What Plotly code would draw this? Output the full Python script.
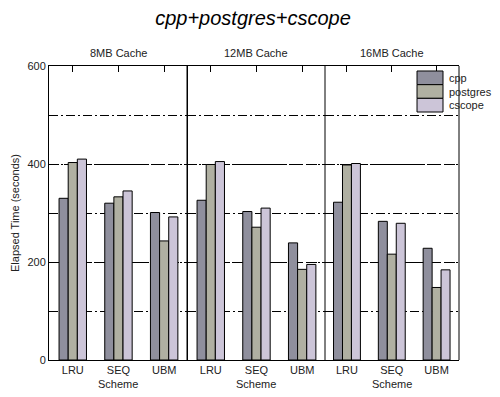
import plotly.graph_objects as go

title = "cpp+postgres+cscope"
panels = ["8MB Cache", "12MB Cache", "16MB Cache"]
schemes = ["LRU", "SEQ", "UBM"]
series = ["cpp", "postgres", "cscope"]
colors = ["#8f8f9d", "#b0b0a2", "#ccc5d8"]

# values[series][panel] -> list over schemes
cpp_vals = [[330, 320, 301], [326, 303, 239], [322, 283, 228]]
postgres_vals = [[403, 333, 243], [399, 271, 185], [398, 216, 148]]
cscope_vals = [[410, 345, 292], [405, 310, 195], [401, 279, 184]]
values = [cpp_vals, postgres_vals, cscope_vals]

y_ticks = [0, 200, 400, 600]

fig = go.Figure()
domains = [[0, 0.3366], [0.3366, 0.6732], [0.6732, 1.0]]
ranges = [[-0.52, 2.5], [-0.52, 2.5], [-0.49, 2.5]]
font = "Liberation Sans, Arial, sans-serif"
tcol = "#222"

for p in range(3):
    xa = "x" if p == 0 else f"x{p+1}"
    for s in range(3):
        fig.add_trace(go.Bar(
            x=schemes, y=values[s][p], name=series[s],
            marker=dict(color=colors[s], line=dict(color="black", width=1)),
            xaxis=xa, yaxis="y", showlegend=False,
        ))
    key = "xaxis" if p == 0 else f"xaxis{p+1}"
    fig.layout[key] = dict(
        domain=domains[p], range=ranges[p], anchor="y", automargin=False,
        showline=True, linecolor="black", linewidth=1, mirror="ticks",
        ticks="inside", ticklen=6, tickcolor="black", layer="below traces",
        tickfont=dict(size=11, color=tcol, family=font),
        showgrid=False, zeroline=False, fixedrange=True,
    )
    fig.add_shape(type="line", xref=f"{xa} domain", yref="y domain",
                  x0=1, x1=1, y0=0, y1=1, line=dict(color="black", width=1))
    fig.add_annotation(text=panels[p], xref=f"{xa} domain", yref="paper",
                       x=0.5, y=1, yshift=5, yanchor="bottom", showarrow=False,
                       font=dict(size=11, color=tcol, family=font))
    fig.add_annotation(text="Scheme", xref=f"{xa} domain", yref="paper",
                       x=0.5, y=0, yshift=-24, yanchor="middle", showarrow=False,
                       font=dict(size=11, color=tcol, family=font))

fig.add_annotation(text="Elapsed Time (seconds)", xref="paper", yref="paper",
                   x=0, xshift=-34, y=0.5, textangle=-90, xanchor="center", yanchor="middle",
                   showarrow=False, font=dict(size=11, color=tcol, family=font))

fig.update_layout(
    barmode="group", bargap=0.4, bargroupgap=0,
    width=492, height=389,
    margin=dict(l=41, r=41, t=58, b=37),
    paper_bgcolor="white", plot_bgcolor="white",
    title=dict(text=title, x=0.498, xanchor="center", y=0.974, yanchor="middle",
               font=dict(size=20, color="black", family=font, style="italic")),
    yaxis=dict(
        range=[0, 600], tickvals=y_ticks, ticks="inside", ticklen=6, tickcolor="black",
        showline=True, linecolor="black", linewidth=1, mirror=True, automargin=False,
        showgrid=True, gridcolor="black", gridwidth=1, griddash="10px,5px",
        minor=dict(dtick=100, showgrid=True, gridcolor="black", gridwidth=1,
                   griddash="9px,3px,2px,3px", ticks=""),
        zeroline=False, layer="below traces",
        tickfont=dict(size=11, color=tcol, family=font),
        fixedrange=True,
    ),
    showlegend=False,
)

# manual legend in the top right of the last panel
lx0, lx1 = 0.8976, 0.961
ytop = 0.983
h = 0.0465
for s in range(3):
    y1 = ytop - s * h
    fig.add_shape(type="rect", xref="paper", yref="paper", x0=lx0, x1=lx1,
                  y0=y1 - h, y1=y1, fillcolor=colors[s], line=dict(color="black", width=1))
    fig.add_annotation(text=series[s], xref="paper", yref="paper", x=lx1, xshift=4,
                       y=y1 - h / 2, xanchor="left", yanchor="middle", showarrow=False,
                       font=dict(size=11, color=tcol, family=font))

fig.write_html("out.html")
